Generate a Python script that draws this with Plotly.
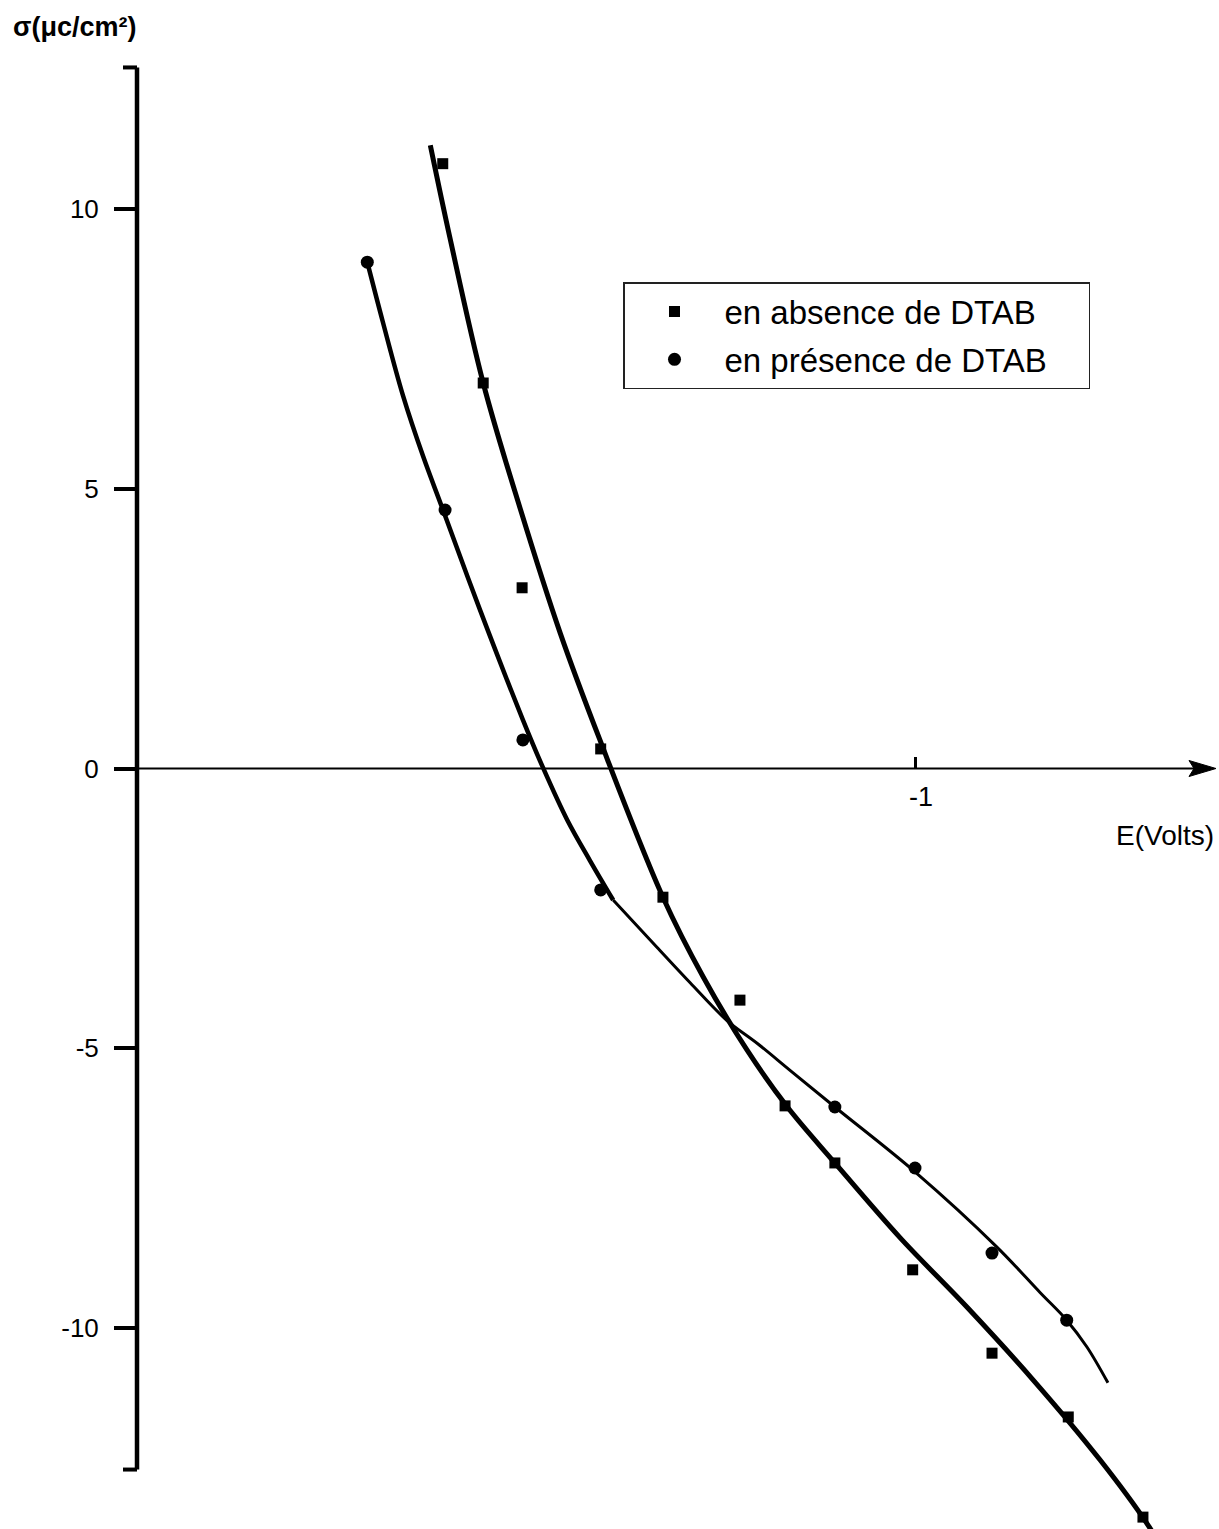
import plotly.graph_objects as go

# Measured points (E in volts, surface charge sigma in µC/cm²)
E_abs = [-0.393, -0.445, -0.495, -0.596, -0.676, -0.775, -0.833, -0.897, -0.997, -1.099, -1.197, -1.293]
s_abs = [10.81, 6.89, 3.23, 0.35, -2.30, -4.14, -6.03, -7.05, -8.96, -10.45, -11.59, -13.38]

E_pre = [-0.296, -0.396, -0.496, -0.596, -0.897, -1.000, -1.099, -1.195]
s_pre = [9.05, 4.62, 0.51, -2.17, -6.05, -7.14, -8.66, -9.86]

# Fitted curves through each series
E_fit_abs = [-0.377, -0.402, -0.445, -0.492, -0.544, -0.595, -0.676, -0.728, -0.784,
             -0.836, -0.897, -0.981, -1.067, -1.152, -1.238, -1.298, -1.315]
s_fit_abs = [11.14, 9.50, 6.89, 4.67, 2.42, 0.51, -2.30, -3.73, -5.03,
             -6.05, -7.05, -8.39, -9.63, -10.93, -12.36, -13.49, -13.88]

E_fit_pre = [-0.296, -0.316, -0.342, -0.368, -0.392, -0.441, -0.496, -0.522, -0.553, -0.582, -0.612,
             -0.668, -0.711, -0.758, -0.797, -0.839, -0.897, -1.000, -1.105, -1.161,
             -1.195, -1.221, -1.248]
s_fit_pre = [9.05, 7.98, 6.66, 5.57, 4.67, 2.83, 0.87, 0.01, -0.92, -1.64, -2.35,
             -3.19, -3.83, -4.50, -4.91, -5.39, -6.05, -7.21, -8.55, -9.37,
             -9.86, -10.34, -10.98]
split = 10  # the fit is drawn heavier on its upper branch

y_ticks = [-10, -5, 0, 5, 10]
y_ticklabels = ["-10", "-5", "0", "5", "10"]
x_ticks = [-1]
x_ticklabels = ["-1"]

W, H = 1219, 1529
ML = 137
PX_PER_V = 778.0
PX_PER_S = 55.95
Y0_PX = 768.5
X_RANGE = [0.0, -(W - ML) / PX_PER_V]
Y_RANGE = [(Y0_PX - H) / PX_PER_S, Y0_PX / PX_PER_S]
Y_END = 12.53  # extent of the drawn ordinate axis

FONT = "Liberation Sans, Arial, sans-serif"
NB = "\u00a0"


def xp(px):
    return (px - ML) / (W - ML)


def yp(py):
    return (H - py) / H


fig = go.Figure()

spline = dict(color="black", shape="spline", smoothing=1.0)
fig.add_trace(go.Scatter(x=E_fit_abs, y=s_fit_abs, mode="lines", line=dict(spline, width=5),
                         showlegend=False, hoverinfo="skip"))
fig.add_trace(go.Scatter(x=E_fit_pre[:split + 1], y=s_fit_pre[:split + 1], mode="lines",
                         line=dict(spline, width=4.5), showlegend=False, hoverinfo="skip"))
fig.add_trace(go.Scatter(x=E_fit_pre[split:], y=s_fit_pre[split:], mode="lines",
                         line=dict(spline, width=3), showlegend=False, hoverinfo="skip"))

fig.add_trace(go.Scatter(x=E_abs, y=s_abs, mode="markers", name="en absence de DTAB" + NB * 2,
                         legendgroup="a", cliponaxis=False,
                         marker=dict(symbol="square", size=11, color="black")))
fig.add_trace(go.Scatter(x=E_pre, y=s_pre, mode="markers", name="en présence de DTAB" + NB * 4,
                         legendgroup="b", cliponaxis=False,
                         marker=dict(symbol="circle", size=13, color="black")))

shapes = [
    # ordinate axis with its end ticks
    dict(type="line", xref="paper", yref="y", x0=0, x1=0, y0=Y_END, y1=-Y_END,
         line=dict(color="black", width=4.5)),
    dict(type="line", xref="paper", yref="y", x0=-14 / (W - ML), x1=0, y0=Y_END, y1=Y_END,
         line=dict(color="black", width=4)),
    dict(type="line", xref="paper", yref="y", x0=-14 / (W - ML), x1=0, y0=-Y_END, y1=-Y_END,
         line=dict(color="black", width=4)),
    # abscissa with arrow head
    dict(type="line", xref="x", yref="y", x0=0, x1=-(1195 - ML) / PX_PER_V, y0=0, y1=0,
         line=dict(color="black", width=2.2)),
    dict(type="path", xref="x", yref="y", xsizemode="pixel", ysizemode="pixel",
         xanchor=-(1216 - ML) / PX_PER_V, yanchor=0,
         path="M -27,-8 L 0,0 L -27,8 L -22,0 Z",
         fillcolor="black", line=dict(color="black", width=1)),
]

annotations = [
    dict(text="σ(μc/cm²)", xref="paper", yref="paper", x=xp(11), y=yp(27),
         xanchor="left", yanchor="middle", showarrow=False,
         font=dict(family=FONT, size=27, color="black", weight="bold")),
    dict(text="E(Volts)", xref="paper", yref="paper", x=xp(1216), y=yp(836),
         xanchor="right", yanchor="middle", showarrow=False,
         font=dict(family=FONT, size=28, color="black")),
]

fig.update_layout(
    width=W, height=H,
    margin=dict(l=ML, r=0, t=0, b=0),
    paper_bgcolor="white", plot_bgcolor="white",
    font=dict(family=FONT, color="black"),
    shapes=shapes, annotations=annotations,
    showlegend=True,
    legend=dict(x=xp(623), y=yp(282), xanchor="left", yanchor="top",
                bgcolor="white", bordercolor="#222", borderwidth=1.5,
                font=dict(family=FONT, size=33, color="black"),
                itemwidth=90, tracegroupgap=2),
    xaxis=dict(range=X_RANGE, anchor="free", position=yp(Y0_PX), showgrid=False, zeroline=False,
               showline=False, ticks="inside", ticklen=12, tickwidth=3, tickcolor="black",
               tickvals=x_ticks, ticktext=x_ticklabels, ticklabelstandoff=9, ticklabelshift=-6,
               tickfont=dict(family=FONT, size=27, color="black")),
    yaxis=dict(range=Y_RANGE, showgrid=False, zeroline=False, showline=False,
               ticks="outside", ticklen=22, tickwidth=4, tickcolor="black",
               tickvals=y_ticks, ticktext=y_ticklabels, ticklabelstandoff=10,
               tickfont=dict(family=FONT, size=26, color="black")),
)

fig.write_html("out.html")
